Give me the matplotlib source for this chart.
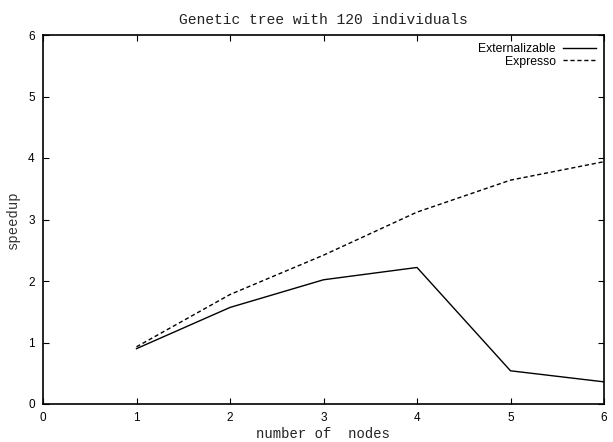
import matplotlib
matplotlib.use('Agg')
import matplotlib.pyplot as plt

nodes = [1, 2, 3, 4, 5, 6]
externalizable = [0.90, 1.57, 2.02, 2.22, 0.54, 0.36]
expresso = [0.93, 1.78, 2.42, 3.12, 3.64, 3.94]

mono = 'Liberation Mono'
sans = 'Liberation Sans'

fig = plt.figure(figsize=(6.13, 4.42), dpi=100)
ax = fig.add_axes([43/613, 1 - 404/442, (604-43)/613, (404-35)/442])

ax.plot(nodes, externalizable, color='black', lw=1.0, label='Externalizable')
ax.plot(nodes, expresso, color='black', lw=1.0, ls=(0, (3, 2)), label='Expresso')

ax.set_xlim(0, 6)
ax.set_ylim(0, 6)
ax.set_xticks(range(7))
ax.set_yticks(range(7))
ax.tick_params(direction='in', top=True, right=True, length=4, width=0.8,
               labelsize=8.5, pad=6)
for lab in ax.get_xticklabels() + ax.get_yticklabels():
    lab.set_family(sans)
for s in ax.spines.values():
    s.set_linewidth(1.2)

ax.set_title('Genetic tree with 120 individuals', family=mono, fontsize=10.5,
             pad=8, color='#222222')
ax.set_xlabel('number of  nodes', family=mono, fontsize=10, labelpad=2, color='#222222')
ax.set_ylabel('speedup', family=mono, fontsize=10, labelpad=6, color='#333333')

leg = ax.legend(loc='upper right', frameon=False, markerfirst=False,
                prop={'family': sans, 'size': 8.8}, handlelength=2.7,
                borderaxespad=0.25, labelspacing=0.05, handletextpad=0.6)
for t in leg.get_texts():
    t.set_ha('right')

fig.savefig('out.png', dpi=100)
